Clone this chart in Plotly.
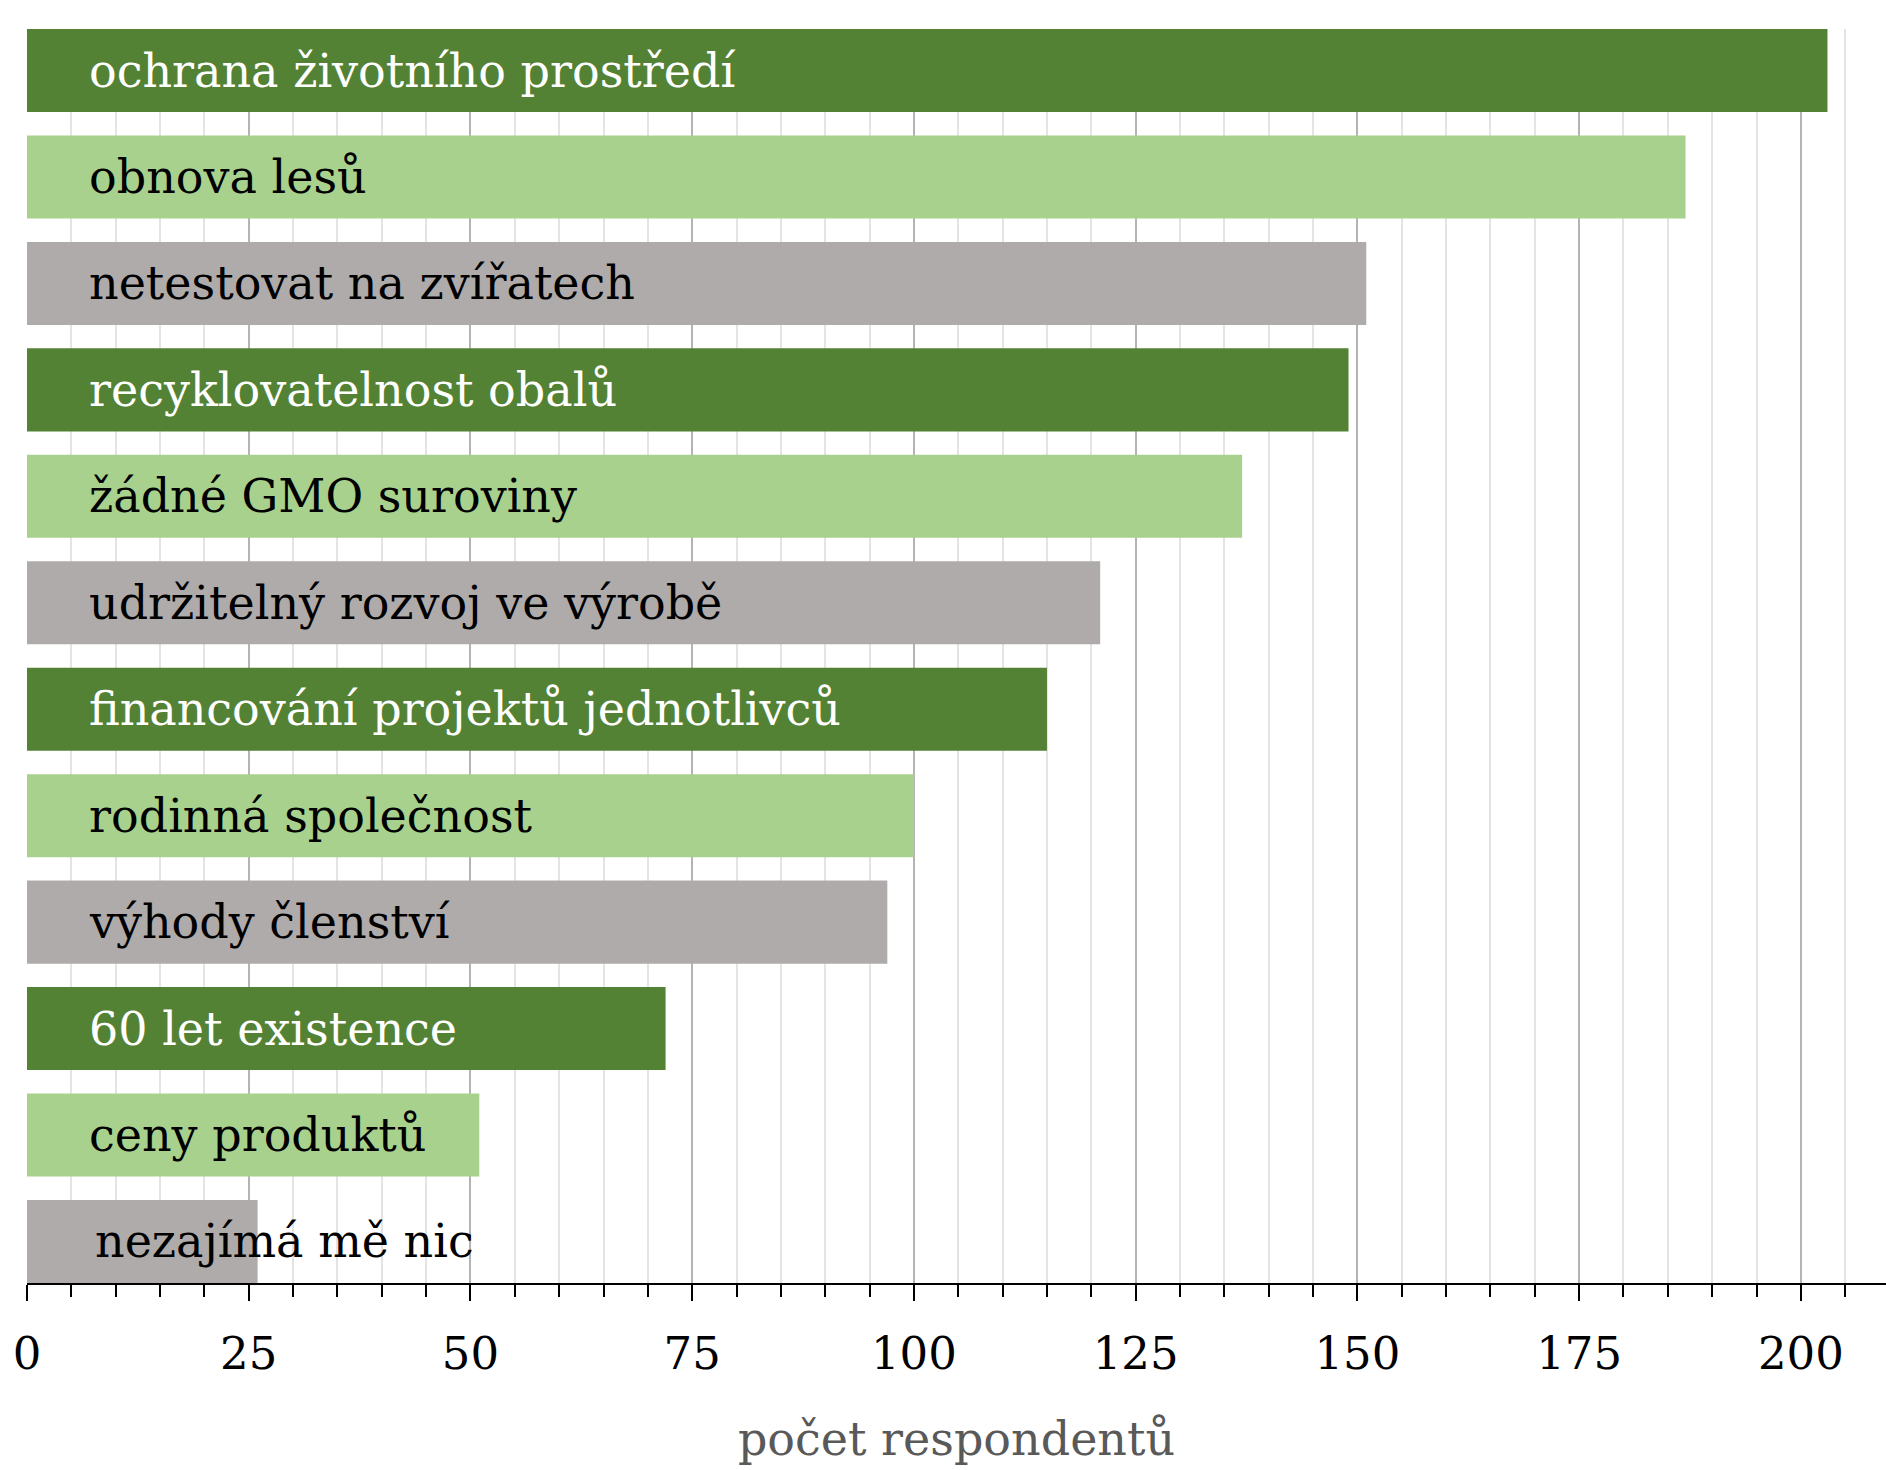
import plotly.graph_objects as go

categories = [
    "ochrana životního prostředí",
    "obnova lesů",
    "netestovat na zvířatech",
    "recyklovatelnost obalů",
    "žádné GMO suroviny",
    "udržitelný rozvoj ve výrobě",
    "financování projektů jednotlivců",
    "rodinná společnost",
    "výhody členství",
    "60 let existence",
    "ceny produktů",
    "nezajímá mě nic",
]
values = [203, 187, 151, 149, 137, 121, 115, 100, 97, 72, 51, 26]
tick_vals = [0, 25, 50, 75, 100, 125, 150, 175, 200]
axis_title = "počet respondentů"

DARK = "#548235"
LIGHT = "#A9D18E"
GRAY = "#AFABAB"
palette = [DARK, LIGHT, GRAY]
bar_colors = [palette[i % 3] for i in range(len(categories))]
text_colors = ["#FFFFFF" if c == DARK else "#000000" for c in bar_colors]

FONT = "DejaVu Serif"

fig = go.Figure()
fig.add_trace(go.Bar(
    x=values,
    y=categories,
    orientation="h",
    marker=dict(color=bar_colors, line=dict(width=0)),
    hoverinfo="skip",
))

annotations = []
for i, (cat, tc) in enumerate(zip(categories, text_colors)):
    annotations.append(dict(
        x=6.8 if i < len(categories) - 1 else 7.4, y=cat, xref="x", yref="y",
        text=cat, showarrow=False, xanchor="left", yanchor="middle",
        font=dict(family=FONT, size=46, color=tc),
    ))

n = len(categories)
half = 0.39
fig.update_layout(
    width=1886, height=1470,
    margin=dict(l=27, r=0, t=29, b=187),
    plot_bgcolor="white", paper_bgcolor="white",
    bargap=0.22,
    showlegend=False,
    annotations=annotations,
    font=dict(family=FONT, color="#000000"),
    xaxis=dict(
        range=[0, 209.6],
        tickvals=tick_vals,
        ticks="outside", ticklen=16, tickwidth=2, tickcolor="#000000",
        showline=True, linecolor="#000000", linewidth=2,
        showgrid=True, gridcolor="#B4B4B4", gridwidth=1.5,
        zeroline=False,
        tickfont=dict(family=FONT, size=45, color="#000000"),
        ticklabelstandoff=14,
        minor=dict(dtick=5, tick0=0, ticks="outside", ticklen=12, tickwidth=2,
                   tickcolor="#000000", showgrid=True, gridcolor="#E4E4E4", gridwidth=1.5),
        title=dict(text=axis_title, font=dict(family=FONT, size=46, color="#595959"), standoff=44),
        fixedrange=True,
    ),
    yaxis=dict(
        range=[n - 1 + half, -half],
        showticklabels=False, ticks="",
        showgrid=False, zeroline=False, showline=False,
        fixedrange=True,
    ),
)

fig.write_html("out.html")
